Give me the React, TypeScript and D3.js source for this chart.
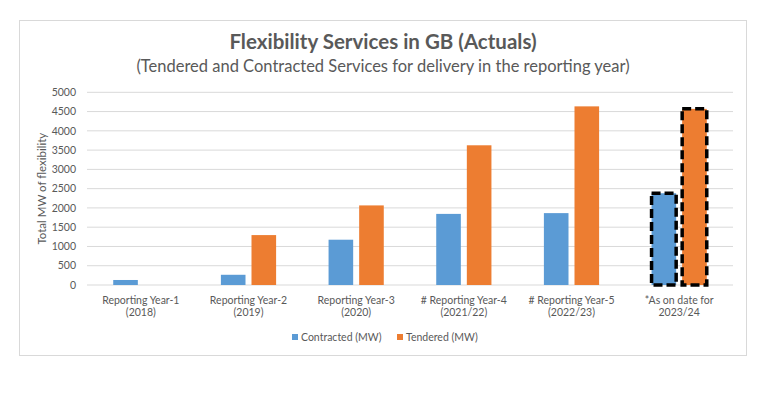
import React from 'react';
import * as d3 from 'd3';

// values
const categories = [
  ['Reporting Year-1', '(2018)'],
  ['Reporting Year-2', '(2019)'],
  ['Reporting Year-3', '(2020)'],
  ['# Reporting Year-4', '(2021/22)'],
  ['# Reporting Year-5', '(2022/23)'],
  ['*As on date for', '2023/24'],
];
const contracted = [130, 265, 1175, 1845, 1865, 2380];
const tendered = [0, 1295, 2065, 3625, 4635, 4570];
const seriesNames = ['Contracted (MW)', 'Tendered (MW)'];
const seriesColors = ['#5B9BD5', '#ED7D31'];
const yTicks = [0, 500, 1000, 1500, 2000, 2500, 3000, 3500, 4000, 4500, 5000];

const W = 768;
const H = 394;
const FONT = 'Lato, "Open Sans", sans-serif';
const TEXT = '#595959';

export default function App() {
  const keys = categories.map((c) => c.join(' '));
  const x = d3.scaleBand<string>().domain(keys).range([87, 733]).padding(0);
  const xs = d3
    .scaleBand<string>()
    .domain(seriesNames)
    .range([0, x.bandwidth()])
    .paddingInner(0.196)
    .paddingOuter(0.857);
  const y = d3.scaleLinear().domain([0, 5000]).range([285, 92.3]);

  const rows = keys.map((k, i) => ({ key: k, vals: [contracted[i], tendered[i]], last: i === keys.length - 1 }));

  return (
    <svg
      width={W}
      height={H}
      style={{ position: 'absolute', left: 0, top: 0, background: '#fff' }}
      fontFamily={FONT}
    >
      <rect x={19.5} y={20.5} width={727} height={335} fill="#fff" stroke="#d9d9d9" />

      <text x={383} y={49} textAnchor="middle" fontSize={20.5} fontWeight="bold" fill={TEXT}>
        Flexibility Services in GB (Actuals)
      </text>
      <text x={383} y={72} textAnchor="middle" fontSize={16.5} fill={TEXT}>
        (Tendered and Contracted Services for delivery in the reporting year)
      </text>

      {/* gridlines + y labels */}
      {yTicks.map((t) => (
        <g key={t}>
          <line x1={87} x2={733} y1={y(t)} y2={y(t)} stroke="#d9d9d9" strokeWidth={1} />
          <text x={76} y={y(t) + 3.7} textAnchor="end" fontSize={10.5} fill={TEXT}>
            {t}
          </text>
        </g>
      ))}

      <text
        transform={`translate(46,${(y(0) + y(5000)) / 2}) rotate(-90)`}
        textAnchor="middle"
        fontSize={11.5}
        fill={TEXT}
      >
        Total MW of flexibility
      </text>

      {/* bars */}
      {rows.map((r) => (
        <g key={r.key} transform={`translate(${x(r.key)},0)`}>
          {r.vals.map((v, j) => {
            const bx = xs(seriesNames[j])!;
            const bw = xs.bandwidth();
            if (v <= 0) return null;
            return (
              <g key={j}>
                <rect x={bx} y={y(v)} width={bw} height={y(0) - y(v)} fill={seriesColors[j]} />
                {r.last && (
                  <rect
                    x={bx}
                    y={y(v)}
                    width={bw}
                    height={y(0) - y(v)}
                    fill="none"
                    stroke="#000"
                    strokeWidth={3.5}
                    strokeDasharray="9 4"
                  />
                )}
              </g>
            );
          })}
          <text x={x.bandwidth() / 2} y={303.5} textAnchor="middle" fontSize={10.5} fill={TEXT}>
            {categories[keys.indexOf(r.key)][0]}
          </text>
          <text x={x.bandwidth() / 2} y={316} textAnchor="middle" fontSize={10.5} fill={TEXT}>
            {categories[keys.indexOf(r.key)][1]}
          </text>
        </g>
      ))}

      {/* legend */}
      {seriesNames.map((s, i) => {
        const lx = [292, 397][i];
        return (
          <g key={s}>
            <rect x={lx} y={334} width={6} height={6} fill={seriesColors[i]} />
            <text x={lx + 9} y={341} fontSize={10.5} fill={TEXT}>
              {s}
            </text>
          </g>
        );
      })}
    </svg>
  );
}
